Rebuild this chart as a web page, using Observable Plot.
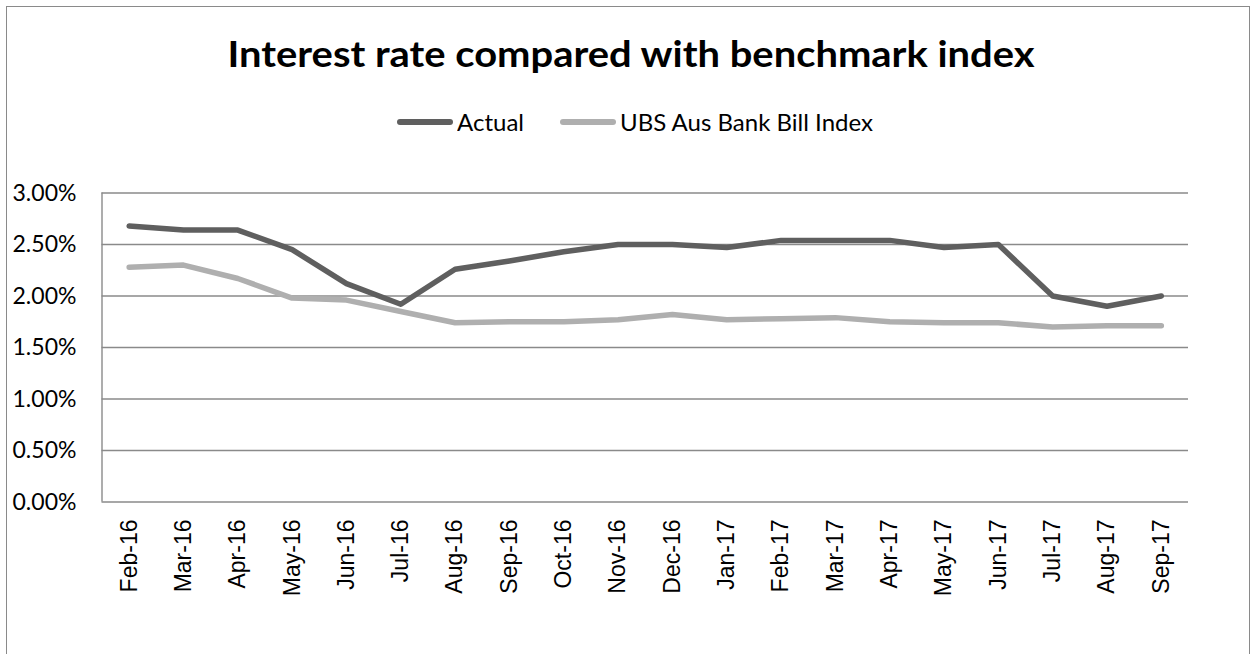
<!DOCTYPE html>
<html>
<head>
<meta charset="utf-8">
<script src="https://cdn.jsdelivr.net/npm/d3@7"></script>
<script src="https://cdn.jsdelivr.net/npm/@observablehq/plot@0.6"></script>
<style>
  html, body { margin: 0; padding: 0; background: #fff; overflow: hidden; }
  #wrap { position: relative; width: 1255px; height: 654px; overflow: hidden; }
  #frame { position: absolute; left: 6px; top: 6px; width: 1244px; height: 700px; border: 1px solid #8a8a8a; box-sizing: border-box; pointer-events: none; }
  #header { position: relative; height: 150px; }
  #title { position: absolute; left: 0; width: 1263px; top: 35px; text-align: center; line-height: 36px; font-family: Lato, sans-serif; font-weight: bold; font-size: 36px; color: #000; white-space: nowrap; }
  #title span { display: inline-block; transform-origin: 50% 50%; }
  .item { position: absolute; top: 110px; height: 24px; display: flex; align-items: center; font-family: Lato, sans-serif; font-size: 24px; line-height: 24px; color: #000; white-space: nowrap; }
  .item .lbl { display: inline-block; transform-origin: 0 50%; }
  .sw { display: inline-block; width: 56px; height: 6px; border-radius: 3px; margin-right: 4px; }
  #plot { position: absolute; top: 150px; left: 0; }
</style>
</head>
<body>
<div id="wrap">
  <div id="header">
    <div id="title"><span id="titleText"></span></div>
  </div>
  <div id="plot"></div>
  <div id="frame"></div>
</div>
<script>
const title = "Interest rate compared with benchmark index";
const months = ["Feb-16","Mar-16","Apr-16","May-16","Jun-16","Jul-16","Aug-16","Sep-16","Oct-16","Nov-16","Dec-16","Jan-17","Feb-17","Mar-17","Apr-17","May-17","Jun-17","Jul-17","Aug-17","Sep-17"];
const seriesNames = ["Actual", "UBS Aus Bank Bill Index"];
const actual = [2.68,2.64,2.64,2.45,2.12,1.92,2.26,2.34,2.43,2.50,2.50,2.47,2.54,2.54,2.54,2.47,2.50,2.00,1.90,2.00];
const ubs = [2.28,2.30,2.17,1.98,1.96,1.85,1.74,1.75,1.75,1.77,1.82,1.77,1.78,1.79,1.75,1.74,1.74,1.70,1.71,1.71];
const yTicks = [0, 0.5, 1, 1.5, 2, 2.5, 3];
const colors = ["#5f5f5f", "#afafaf"];

const titleWidth = 807;
const legendLefts = [397, 560];
const legendTextWidths = [67, 253];
const yLabelWidth = 64;

const titleSpan = document.getElementById("titleText");
titleSpan.textContent = title;

const header = document.getElementById("header");
const legendLabels = [];
seriesNames.forEach((n, i) => {
  const it = document.createElement("div");
  it.className = "item";
  it.style.left = legendLefts[i] + "px";
  const sw = document.createElement("span");
  sw.className = "sw";
  sw.style.background = colors[i];
  const t = document.createElement("span");
  t.className = "lbl";
  t.textContent = n;
  it.appendChild(sw); it.appendChild(t);
  header.appendChild(it);
  legendLabels.push(t);
});

const data = [];
months.forEach((m, i) => {
  data.push({i, month: m, series: seriesNames[0], value: actual[i] / 100});
  data.push({i, month: m, series: seriesNames[1], value: ubs[i] / 100});
});

const chart = Plot.plot({
  width: 1255,
  height: 504,
  marginTop: 42.5,
  marginBottom: 152.5,
  marginLeft: 101.5,
  marginRight: 67,
  style: { background: "transparent" },
  x: { type: "linear", domain: [-0.5, months.length - 0.5] },
  y: { domain: [0, 0.03] },
  color: { domain: seriesNames, range: colors },
  marks: [
    Plot.ruleY(yTicks.map(d => d / 100), { stroke: "#8a8a8a", strokeWidth: 1.4 }),
    Plot.ruleX([-0.5], { y1: 0, y2: 0.03, stroke: "#8a8a8a", strokeWidth: 1.4 }),
    Plot.axisY(yTicks.map(d => d / 100), {
      tickSize: 0, tickPadding: 25.5, tickFormat: d => (d * 100).toFixed(2) + "%",
      fontSize: 23.5, fontFamily: "Lato, sans-serif", fill: "#000", label: null
    }),
    Plot.axisX(d3.range(months.length), {
      tickSize: 0, tickPadding: 17.5, tickRotate: -90, tickFormat: i => months[i],
      fontSize: 23, fontFamily: "Liberation Sans, Arial, sans-serif", fill: "#000", label: null
    }),
    Plot.line(data, {
      x: "i", y: "value", z: "series", stroke: "series",
      strokeWidth: 5.5, strokeLinecap: "round", strokeLinejoin: "round"
    })
  ]
});
document.getElementById("plot").appendChild(chart);

// fit text widths to the reference
chart.querySelectorAll('g[aria-label="y-axis tick label"] text').forEach(t => {
  t.setAttribute("textLength", yLabelWidth);
  t.setAttribute("lengthAdjust", "spacingAndGlyphs");
});
function fit() {
  const w = titleSpan.getBoundingClientRect().width;
  if (w > 0) titleSpan.style.transform = `scaleX(${titleWidth / w})`;
  legendLabels.forEach((el, i) => {
    const lw = el.getBoundingClientRect().width;
    if (lw > 0) el.style.transform = `scaleX(${legendTextWidths[i] / lw})`;
  });
}
fit();
</script>
</body>
</html>
